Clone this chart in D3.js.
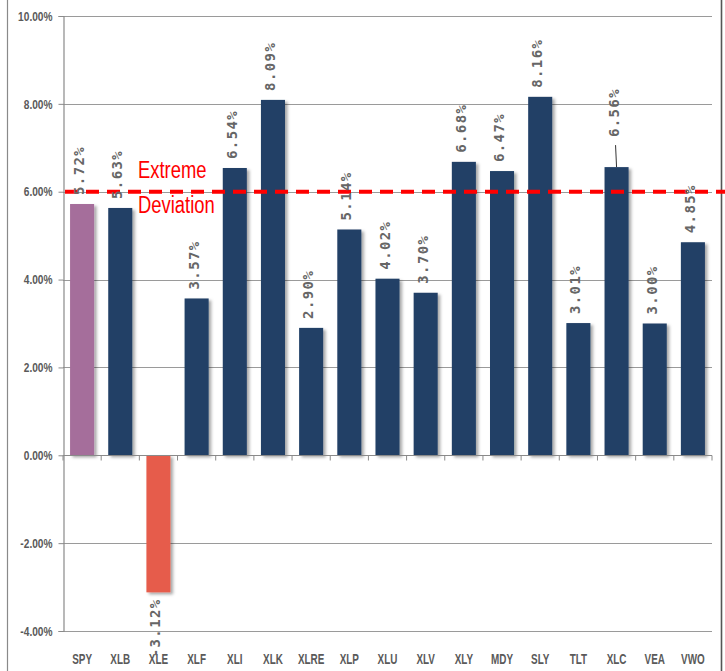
<!DOCTYPE html>
<html>
<head>
<meta charset="utf-8">
<script src="https://cdn.jsdelivr.net/npm/d3@7"></script>
<style>
  body { margin: 0; background: #fff; }
  svg { display: block; }
  .ylab { font-family: "Liberation Sans", Arial, sans-serif; font-weight: bold; font-size: 13px; fill: #5a5a5a; }
  .xlab { font-family: "Liberation Sans", Arial, sans-serif; font-weight: bold; font-size: 15px; fill: #5a5a5a; }
  .vlab { font-family: "DejaVu Sans Mono", monospace; font-weight: bold; font-size: 14px; letter-spacing: 1.4px; fill: #666; }
  .note { font-family: "Liberation Sans", Arial, sans-serif; font-size: 23px; fill: #ff0000; }
</style>
</head>
<body>
<svg id="chart" width="725" height="671"></svg>
<script>
// values
const tickers = ['SPY','XLB','XLE','XLF','XLI','XLK','XLRE','XLP','XLU','XLV','XLY','MDY','SLY','TLT','XLC','VEA','VWO'];
const returns = [5.72, 5.63, -3.12, 3.57, 6.54, 8.09, 2.90, 5.14, 4.02, 3.70, 6.68, 6.47, 8.16, 3.01, 6.56, 3.00, 4.85];
const yTicks = [-4, -2, 0, 2, 4, 6, 8, 10];
const extremeLevel = 6;

const svg = d3.select('#chart');
const W = 725, H = 671;
const plotL = 63, plotR = 712, plotT = 16, plotB = 631;

const x = d3.scaleBand().domain(tickers).range([plotL, plotR]).paddingInner(0.37).paddingOuter(0.185);
const y = d3.scaleLinear().domain([-4, 10]).range([plotB, plotT]);

const barColor = t => t === 'SPY' ? '#a56e9b' : t === 'XLE' ? '#e65c4b' : '#213f66';

// squeeze a text horizontally (narrow font look)
function narrow(sel, k) {
  sel.each(function () {
    const w = this.getComputedTextLength();
    d3.select(this).attr('textLength', w * k).attr('lengthAdjust', 'spacingAndGlyphs');
  });
}

// drop shadow for bars
const defs = svg.append('defs');
const f = defs.append('filter').attr('id', 'shadow').attr('x', '-20%').attr('y', '-5%').attr('width', '150%').attr('height', '115%');
f.append('feDropShadow').attr('dx', 2.5).attr('dy', 2).attr('stdDeviation', 1.8)
  .attr('flood-color', '#000').attr('flood-opacity', 0.35);

// frame
svg.append('line').attr('x1', 7.5).attr('x2', 7.5).attr('y1', 0).attr('y2', H).attr('stroke', '#8a8a8a').attr('stroke-width', 1.2);
svg.append('line').attr('x1', 721.5).attr('x2', 721.5).attr('y1', 0).attr('y2', H).attr('stroke', '#555').attr('stroke-width', 1.6);

// gridlines
svg.append('g').selectAll('line').data(yTicks).join('line')
  .attr('x1', plotL).attr('x2', plotR)
  .attr('y1', d => Math.round(y(d)) + 0.5).attr('y2', d => Math.round(y(d)) + 0.5)
  .attr('stroke', '#9a9a9a').attr('stroke-width', 1.2);

// y axis
const yAxis = svg.append('g').attr('transform', `translate(${plotL + 0.5},0)`)
  .call(d3.axisLeft(y).tickValues(yTicks).tickSize(5).tickPadding(6).tickFormat(d => d.toFixed(2) + '%'));
yAxis.attr('font-size', null).attr('font-family', null);
yAxis.select('.domain').attr('stroke', '#8a8a8a').attr('stroke-width', 1.2);
yAxis.selectAll('.tick line').attr('stroke', '#8a8a8a');
yAxis.selectAll('.tick text').attr('class', 'ylab').attr('fill', null).call(narrow, 0.78);

// bars
svg.append('g').selectAll('rect').data(tickers).join('rect')
  .attr('x', t => x(t))
  .attr('width', x.bandwidth())
  .attr('y', (t, i) => y(Math.max(0, returns[i])))
  .attr('height', (t, i) => Math.abs(y(returns[i]) - y(0)))
  .attr('fill', barColor)
  .attr('filter', 'url(#shadow)');

// x axis on the zero line with ticks between categories
const x0 = Math.round(y(0)) + 0.5;
svg.append('line').attr('x1', plotL).attr('x2', plotR).attr('y1', x0).attr('y2', x0)
  .attr('stroke', '#8a8a8a').attr('stroke-width', 1.2);
const step = x.step();
svg.append('g').selectAll('line').data(d3.range(tickers.length + 1)).join('line')
  .attr('x1', i => plotL + i * step).attr('x2', i => plotL + i * step)
  .attr('y1', x0).attr('y2', x0 + 5)
  .attr('stroke', '#8a8a8a');

// category labels at the bottom
svg.append('g').selectAll('text').data(tickers).join('text')
  .attr('class', 'xlab')
  .attr('x', t => x(t) + x.bandwidth() / 2)
  .attr('y', 664)
  .attr('text-anchor', 'middle')
  .text(t => t)
  .call(narrow, 0.66);

// extreme deviation line
svg.append('line').attr('x1', plotL + 2).attr('x2', W)
  .attr('y1', y(extremeLevel)).attr('y2', y(extremeLevel))
  .attr('stroke', '#ff0000').attr('stroke-width', 4)
  .attr('stroke-dasharray', '13,8');
svg.append('text').attr('class', 'note').attr('x', 138).attr('y', 178).text('Extreme').call(narrow, 0.8);
svg.append('text').attr('class', 'note').attr('x', 138).attr('y', 213).text('Deviation').call(narrow, 0.8);

// value labels, rotated
const lift = t => t === 'XLC' ? 30 : 9;
svg.append('g').selectAll('text').data(tickers).join('text')
  .attr('class', 'vlab')
  .attr('text-anchor', (t, i) => returns[i] < 0 ? 'end' : 'start')
  .attr('transform', (t, i) => {
    const cx = x(t) + x.bandwidth() / 2 + 2;
    const cy = returns[i] < 0 ? y(returns[i]) + 6 : y(returns[i]) - lift(t);
    return `translate(${cx},${cy}) rotate(-90)`;
  })
  .text((t, i) => returns[i].toFixed(2) + '%');

// leader line for XLC label
const ci = tickers.indexOf('XLC');
svg.append('line')
  .attr('x1', x('XLC') + x.bandwidth() / 2 - 1).attr('x2', x('XLC') + x.bandwidth() / 2)
  .attr('y1', y(returns[ci]) - 22).attr('y2', y(returns[ci]))
  .attr('stroke', '#333').attr('stroke-width', 1);
</script>
</body>
</html>
